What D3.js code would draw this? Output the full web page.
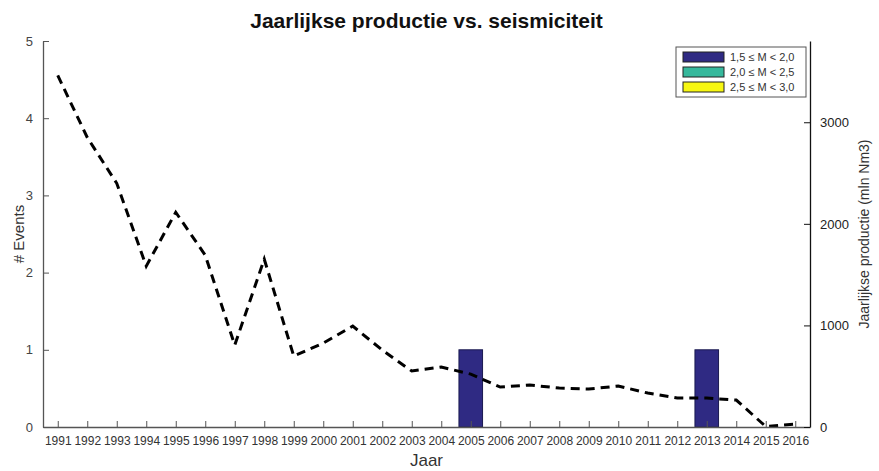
<!DOCTYPE html>
<html><head><meta charset="utf-8">
<script src="https://cdn.jsdelivr.net/npm/d3@7/dist/d3.min.js"></script>
<style>body{margin:0;background:#fff}svg{display:block}text{font-family:"Liberation Sans",Arial,sans-serif}</style>
</head><body><svg id="c" width="879" height="471"></svg>
<script>
const years = [1991,1992,1993,1994,1995,1996,1997,1998,1999,2000,2001,2002,2003,2004,2005,2006,2007,2008,2009,2010,2011,2012,2013,2014,2015,2016];
const production = [3461,2851,2399,1583,2114,1691,806,1652,698,826,993,757,551,590,521,393,413,383,374,403,334,285,285,265,5,29];
const events15 = [0,0,0,0,0,0,0,0,0,0,0,0,0,0,1,0,0,0,0,0,0,0,1,0,0,0];
const events20 = years.map(()=>0);
const events25 = years.map(()=>0);
const leftTicks = [0,1,2,3,4,5];
const rightTicks = [0,1000,2000,3000];
const legendLabels = ["1,5 ≤ M < 2,0","2,0 ≤ M < 2,5","2,5 ≤ M < 3,0"];
const legendColors = ["#2f2a83","#36b89c","#f7f712"];

const svg = d3.select("#c");
const L=43, R=810, T=41, B=427;
const x = d3.scaleLinear().domain([1990.5,2016.5]).range([L,R]);
const yL = d3.scaleLinear().domain([0,5]).range([B,T]);
const yR = d3.scaleLinear().domain([0,3800]).range([B,T]);
const step = x(1992)-x(1991);

// bars
svg.append("g").selectAll("rect").data(years.map((y,i)=>({y,v:events15[i]})).filter(d=>d.v>0))
  .join("rect").attr("x",d=>x(d.y)-step*0.4).attr("width",step*0.8)
  .attr("y",d=>yL(d.v)).attr("height",d=>B-yL(d.v))
  .attr("fill",legendColors[0]).attr("stroke","#1a1a50").attr("stroke-width",1);

// line
const line = d3.line().x((d,i)=>x(years[i])).y(d=>yR(d));
svg.append("path").datum(production).attr("d",line).attr("fill","none")
  .attr("stroke","#000").attr("stroke-width",3).attr("stroke-dasharray","9,6");

// axes
const ax = d3.axisBottom(x).tickValues(years).tickFormat(d3.format("d")).tickSizeInner(-6).tickSizeOuter(0).tickPadding(9);
const gx = svg.append("g").attr("transform",`translate(0,${B})`).call(ax);
gx.select(".domain").attr("stroke","#555");
gx.selectAll(".tick line").attr("stroke","#555");
gx.selectAll("text").attr("font-size",12).attr("fill","#333");

const ayl = d3.axisLeft(yL).tickValues(leftTicks).tickFormat(d3.format("d")).tickSizeInner(-6).tickSizeOuter(0).tickPadding(10);
const gl = svg.append("g").attr("transform",`translate(${L},0)`).call(ayl);
gl.select(".domain").attr("stroke","#555");
gl.selectAll(".tick line").attr("stroke","#555");
gl.selectAll("text").attr("font-size",13).attr("fill","#444");

const ayr = d3.axisRight(yR).tickValues(rightTicks).tickFormat(d3.format("d")).tickSizeInner(-6).tickSizeOuter(0).tickPadding(10);
const gr = svg.append("g").attr("transform",`translate(${R},0)`).call(ayr);
gr.select(".domain").attr("stroke","#111");
gr.selectAll(".tick line").attr("stroke","#111");
gr.selectAll("text").attr("font-size",13).attr("fill","#222");
svg.selectAll(".domain").attr("stroke-width",1.3);

// titles
svg.append("text").attr("x",(L+R)/2).attr("y",28).attr("text-anchor","middle")
  .attr("font-size",21).attr("font-weight","bold").attr("fill","#111").text("Jaarlijkse productie vs. seismiciteit");
svg.append("text").attr("x",(L+R)/2).attr("y",466).attr("text-anchor","middle")
  .attr("font-size",17).attr("fill","#333").text("Jaar");
svg.append("text").attr("transform",`translate(24,${(T+B)/2}) rotate(-90)`).attr("text-anchor","middle")
  .attr("font-size",15).attr("fill","#333").text("# Events");
svg.append("text").attr("transform",`translate(869,${(T+B)/2}) rotate(-90)`).attr("text-anchor","middle")
  .attr("font-size",14).attr("fill","#333").text("Jaarlijkse productie (mln Nm3)");

// legend
const lg = svg.append("g").attr("transform","translate(676,47)");
lg.append("rect").attr("width",130).attr("height",50).attr("fill","#fff").attr("stroke","#555");
legendLabels.forEach((t,i)=>{
  const cy = 10+i*15;
  lg.append("rect").attr("x",7).attr("y",cy-5).attr("width",41).attr("height",10)
    .attr("fill",legendColors[i]).attr("stroke","#222").attr("stroke-width",1);
  lg.append("text").attr("x",54).attr("y",cy+4).attr("font-size",11).attr("fill","#333").text(t);
});
</script></body></html>
